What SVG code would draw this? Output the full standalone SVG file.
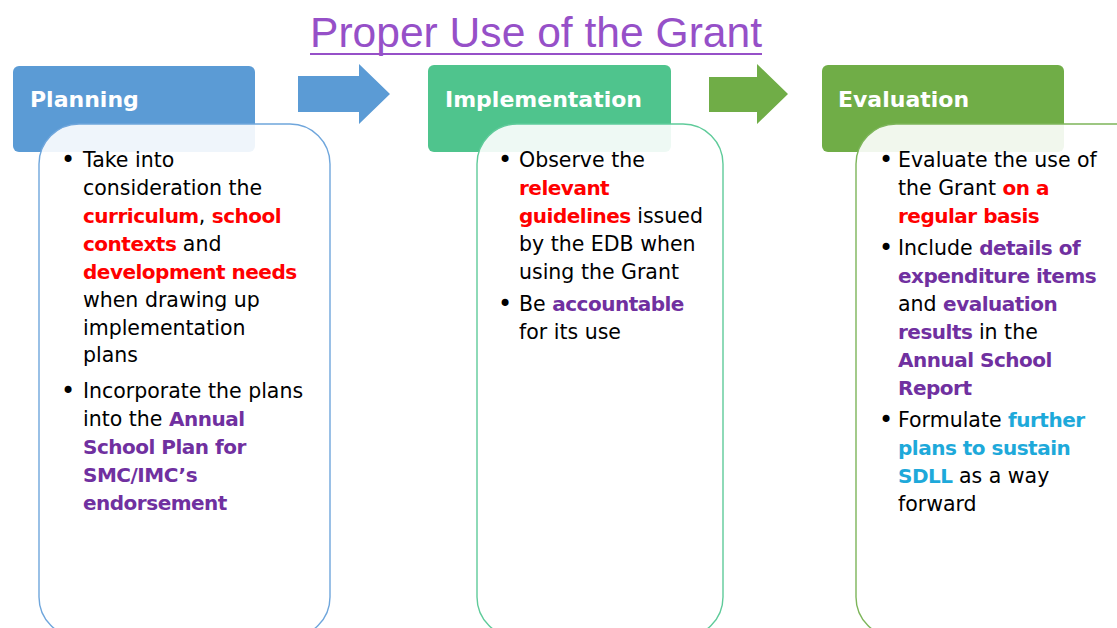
<svg xmlns="http://www.w3.org/2000/svg" width="1117" height="628" viewBox="0 0 1117 628">
<style>
.t{font-family:"DejaVu Sans",sans-serif;font-size:20.5px;fill:#000}
.r,.p,.c{font-weight:bold;font-size:20px;letter-spacing:-0.5px}
.r{fill:#FF0000}
.p{fill:#7030A0}
.c{fill:#1EA9DA}
.bu{font-size:24px}
.h{font-family:"DejaVu Sans",sans-serif;font-size:22px;font-weight:bold;fill:#fff}
.bx{fill:#fff;fill-opacity:0.9;stroke-width:1.4}
</style>
<rect width="1117" height="628" fill="#fff"/>
<g id="title">
<text x="310" y="47" textLength="452" lengthAdjust="spacingAndGlyphs" style="font-family:'Liberation Sans',sans-serif;font-size:42px;fill:#9650C8">Proper Use of the Grant</text>
<line x1="310" y1="54" x2="762" y2="54" stroke="#9650C8" stroke-width="2"/>
</g>
<g id="connectors">
<polygon points="298,76 359,76 359,64 390,94 359,124 359,112 298,112" fill="#5B9BD5"/>
<polygon points="709,77 757,77 757,64 788,94 757,124 757,112 709,112" fill="#70AD47"/>
</g>
<g id="planning">
<rect x="13" y="66" width="242" height="86" rx="6" fill="#5B9BD5"/>
<text class="h" x="30" y="107">Planning</text>
<rect class="bx" x="39" y="124" width="291" height="513" rx="40" stroke="#6FA6DC"/>
<g class="t">
<text class="bu" x="68" y="168" text-anchor="middle">•</text>
<text x="83" y="167">Take into</text>
<text x="83" y="195">consideration the</text>
<text x="83" y="223"><tspan class="r">curriculum</tspan>, <tspan class="r">school</tspan></text>
<text x="83" y="251"><tspan class="r">contexts</tspan> and</text>
<text x="83" y="279"><tspan class="r">development needs</tspan></text>
<text x="83" y="307">when drawing up</text>
<text x="83" y="335">implementation</text>
<text x="83" y="362">plans</text>
<text class="bu" x="68" y="399" text-anchor="middle">•</text>
<text x="83" y="398">Incorporate the plans</text>
<text x="83" y="426">into the <tspan class="p">Annual</tspan></text>
<text x="83" y="454" class="p">School Plan for</text>
<text x="83" y="482" class="p">SMC/IMC’s</text>
<text x="83" y="510" class="p">endorsement</text>
</g>
</g>
<g id="implementation">
<rect x="428" y="65" width="243" height="87" rx="6" fill="#4FC48D"/>
<text class="h" x="445" y="107">Implementation</text>
<rect class="bx" x="477" y="124" width="246" height="513" rx="40" stroke="#5FCB9A"/>
<g class="t">
<text class="bu" x="505" y="168" text-anchor="middle">•</text>
<text x="519" y="167">Observe the</text>
<text x="519" y="195" class="r">relevant</text>
<text x="519" y="223"><tspan class="r">guidelines</tspan> issued</text>
<text x="519" y="251">by the EDB when</text>
<text x="519" y="279">using the Grant</text>
<text class="bu" x="505" y="312" text-anchor="middle">•</text>
<text x="519" y="311">Be <tspan class="p">accountable</tspan></text>
<text x="519" y="339">for its use</text>
</g>
</g>
<g id="evaluation">
<rect x="822" y="65" width="242" height="87" rx="6" fill="#70AD47"/>
<text class="h" x="838" y="107">Evaluation</text>
<rect class="bx" x="856" y="124" width="310" height="513" rx="40" stroke="#7DB55A"/>
<g class="t">
<text class="bu" x="886" y="168" text-anchor="middle">•</text>
<text x="898" y="167">Evaluate the use of</text>
<text x="898" y="195">the Grant <tspan class="r">on a</tspan></text>
<text x="898" y="223" class="r">regular basis</text>
<text class="bu" x="886" y="256" text-anchor="middle">•</text>
<text x="898" y="255">Include <tspan class="p">details of</tspan></text>
<text x="898" y="283" class="p">expenditure items</text>
<text x="898" y="311">and <tspan class="p">evaluation</tspan></text>
<text x="898" y="339"><tspan class="p">results</tspan> in the</text>
<text x="898" y="367" class="p">Annual School</text>
<text x="898" y="395" class="p">Report</text>
<text class="bu" x="886" y="428" text-anchor="middle">•</text>
<text x="898" y="427">Formulate <tspan class="c">further</tspan></text>
<text x="898" y="455" class="c">plans to sustain</text>
<text x="898" y="483"><tspan class="c">SDLL</tspan> as a way</text>
<text x="898" y="511">forward</text>
</g>
</g>
</svg>
